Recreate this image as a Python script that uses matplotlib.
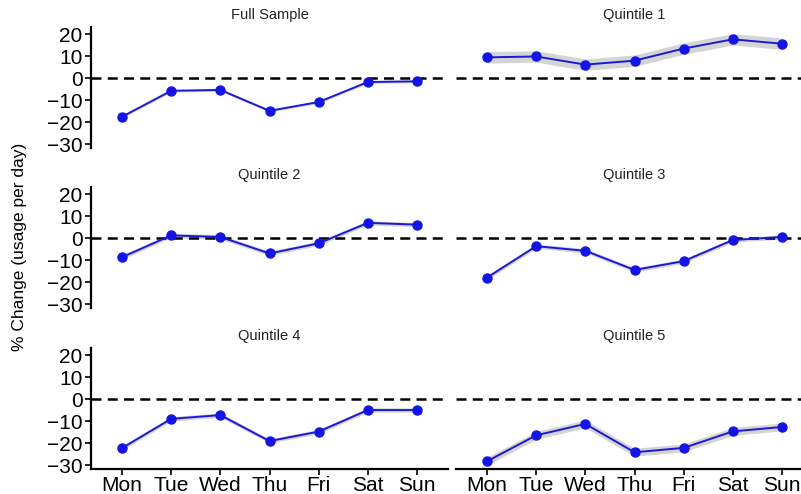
import numpy as np
import matplotlib.pyplot as plt

plt.rcParams['font.family'] = ['Liberation Sans', 'DejaVu Sans']

days = ['Mon', 'Tue', 'Wed', 'Thu', 'Fri', 'Sat', 'Sun']
titles = ['Full Sample', 'Quintile 1', 'Quintile 2', 'Quintile 3', 'Quintile 4', 'Quintile 5']

full = [-17.6, -5.8, -5.4, -14.9, -10.9, -1.8, -1.5]
q1 = [9.4, 9.8, 6.1, 7.9, 13.4, 17.6, 15.6]
q2 = [-8.7, 1.2, 0.5, -7.0, -2.4, 6.9, 6.1]
q3 = [-18.0, -3.7, -5.8, -14.5, -10.5, -0.9, 0.5]
q4 = [-22.3, -9.0, -7.3, -19.1, -14.8, -5.0, -5.0]
q5 = [-28.3, -16.5, -11.3, -24.2, -22.2, -14.7, -12.7]
# half-width of the confidence band
ci = [0.6, 2.6, 1.0, 1.0, 1.0, 1.8]

series = [full, q1, q2, q3, q4, q5]

W, H = 801, 494
fig = plt.figure(figsize=(W / 100, H / 100), dpi=100)

lefts = [91, 456]
bottoms = [148, 308, 469]
aw, ah = 357, 121
x = np.arange(1, 8)

for i, (vals, title) in enumerate(zip(series, titles)):
    r, c = divmod(i, 2)
    ax = fig.add_axes([lefts[c] / W, 1 - bottoms[r] / H, aw / W, ah / H])
    v = np.array(vals)
    ax.fill_between(x, v - ci[i], v + ci[i], color='#d4d4d4', lw=0, zorder=1)
    ax.axhline(0, color='black', ls=(0, (4, 2.5)), lw=1.8, zorder=2)
    ax.plot(x, v, color='#1a1ad6', lw=1.4, marker='o', ms=6.5,
            mfc='#1414e6', mec='#1414e6', zorder=3)
    ax.set_xlim(0.37, 7.63)
    ax.set_ylim(-31.8, 23.2)
    ax.set_title(title, fontsize=10.5, color='#222222', pad=6)
    for s in ['top', 'right']:
        ax.spines[s].set_visible(False)
    if c == 0:
        ax.spines['left'].set_linewidth(1.6)
        ax.set_yticks([20, 10, 0, -10, -20, -30])
        ax.tick_params(axis='y', labelsize=15, length=4, width=1.2, pad=2)
    else:
        ax.spines['left'].set_visible(False)
        ax.set_yticks([])
    if r == 2:
        ax.spines['bottom'].set_linewidth(1.6)
        ax.set_xticks(x)
        ax.set_xticklabels(days)
        ax.tick_params(axis='x', labelsize=15, length=4, width=1.2, pad=1)
    else:
        ax.spines['bottom'].set_visible(False)
        ax.set_xticks([])

fig.text(20 / W, 1 - 247 / H, '% Change (usage per day)', rotation=90,
         ha='center', va='center', fontsize=12.5)

fig.savefig('out.png', dpi=100)
